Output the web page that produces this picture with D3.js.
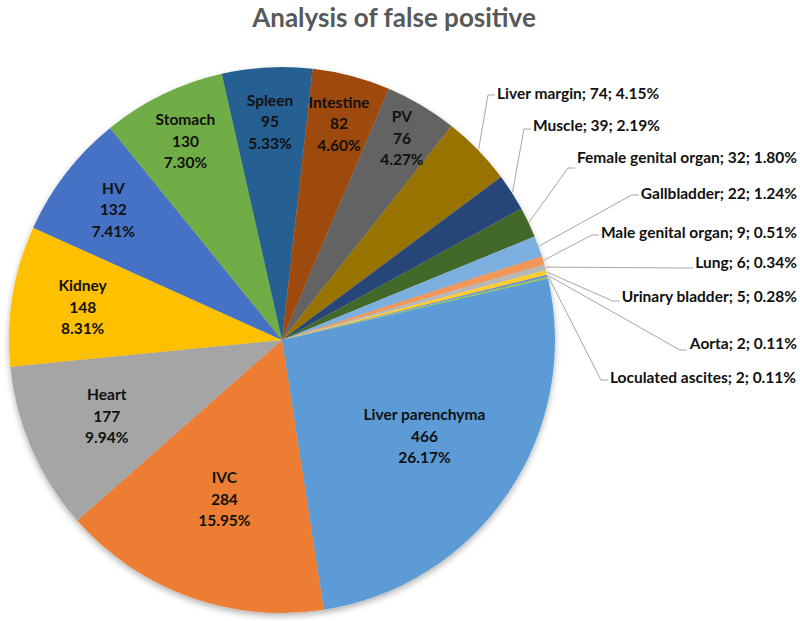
<!DOCTYPE html>
<html>
<head>
<meta charset="utf-8">
<script src="https://cdn.jsdelivr.net/npm/d3@7"></script>
<style>
    body { margin: 0; background: #fff; }
    text { font-family: Lato, "Open Sans", sans-serif; font-weight: bold; }
</style>
</head>
<body>
<div id="space"></div>
<script>
// Data
var organs = ["Liver parenchyma", "IVC", "Heart", "Kidney", "HV", "Stomach", "Spleen", "Intestine", "PV",
    "Liver margin", "Muscle", "Female genital organ", "Gallbladder", "Male genital organ", "Lung",
    "Urinary bladder", "Aorta", "Loculated ascites"];
var counts = [466, 284, 177, 148, 132, 130, 95, 82, 76, 74, 39, 32, 22, 9, 6, 5, 2, 2];
var sliceColors = ["#5B9BD5", "#ED7D31", "#A5A5A5", "#FFC000", "#4472C4", "#70AD47", "#255E91", "#9E480E", "#636363",
    "#997300", "#264478", "#43682B", "#7CAFDD", "#F1975A", "#B7B7B7", "#FFCD33", "#698ED0", "#8CC168"];

// Layout
var width = 800, height = 621;
var cx = 282, cy = 340, radius = 273, startDeg = 77;
var labelSize = 15.5;
var insideRadius = [0.63, 0.62, 0.70, 0.74, 0.78, 0.81, 0.80, 0.82, 0.86];
var outsidePos = [[497, 93, "start"], [533, 125, "start"], [797, 157, "end"], [797, 193, "end"], [797, 232, "end"],
    [797, 262, "end"], [797, 296, "end"], [797, 343, "end"], [796, 377, "end"]];
var leaderY = [95, 129, 168, 195, 235, 268, 301, 350, 380];

var svg;

function init() {
    svg = d3.select("#space").append("svg")
        .attr("xmlns", "http://www.w3.org/2000/svg")
        .attr("width", width)
        .attr("height", height);

    var defs = svg.append("defs");
    var f = defs.append("filter").attr("id", "shadow")
        .attr("x", "-10%").attr("y", "-10%").attr("width", "120%").attr("height", "125%");
    f.append("feDropShadow").attr("dx", 0).attr("dy", 3).attr("stdDeviation", 3)
        .attr("flood-color", "#000").attr("flood-opacity", 0.3);

    svg.append("g").attr("id", "pie");
    svg.append("g").attr("id", "path");
    svg.append("g").attr("id", "text");

    drawTitle();
    drawPie();
}

function drawTitle() {
    svg.select("#text").append("text")
        .attr("x", 394)
        .attr("y", 27)
        .attr("text-anchor", "middle")
        .attr("font-size", 26)
        .attr("fill", "#595959")
        .text("Analysis of false positive");
}

function drawPie() {
    var total = d3.sum(counts);
    var fmt = d3.format(".2%");
    var a0 = startDeg * Math.PI / 180;

    var pie = d3.pie().sort(null).startAngle(a0).endAngle(a0 + 2 * Math.PI);
    var arcs = pie(counts);
    var arc = d3.arc().innerRadius(0).outerRadius(radius);

    var g = svg.select("#pie")
        .attr("transform", "translate(" + cx + "," + cy + ")")
        .attr("filter", "url(#shadow)");

    g.selectAll("path.slice")
        .data(arcs)
        .enter().append("path")
        .attr("class", "slice")
        .attr("d", arc)
        .attr("fill", function (d, i) { return sliceColors[i]; });

    var tg = svg.select("#text");
    var lg = svg.select("#path");

    arcs.forEach(function (d, i) {
        var mid = (d.startAngle + d.endAngle) / 2;
        var pct = fmt(d.value / total);

        if (i < insideRadius.length) {
            //Three line label inside the slice
            var r = radius * insideRadius[i];
            var x = cx + r * Math.sin(mid);
            var y = cy - r * Math.cos(mid);
            var lines = [organs[i], counts[i], pct];
            lines.forEach(function (s, k) {
                tg.append("text")
                    .attr("x", x)
                    .attr("y", y + (k - 1) * 21.5 + 5.5)
                    .attr("text-anchor", "middle")
                    .attr("font-size", labelSize)
                    .attr("fill", "#111")
                    .text(s);
            });
        } else {
            //Outside label with leader line
            var p = outsidePos[i - insideRadius.length];
            var t = tg.append("text")
                .attr("x", p[0])
                .attr("y", p[1] + 5.5)
                .attr("text-anchor", p[2])
                .attr("font-size", labelSize)
                .attr("fill", "#111")
                .text(organs[i] + "; " + counts[i] + "; " + pct);

            var box = t.node().getBBox();
            var ly = leaderY[i - insideRadius.length];
            var ex = cx + (radius + 1) * Math.sin(mid);
            var ey = cy - (radius + 1) * Math.cos(mid);
            lg.append("path")
                .attr("d", d3.line()([[ex, ey], [box.x - 9, ly], [box.x - 2, ly]]))
                .attr("fill", "none")
                .attr("stroke", "#A6A6A6")
                .attr("stroke-width", 1);
        }
    });
}

init();
</script>
</body>
</html>
